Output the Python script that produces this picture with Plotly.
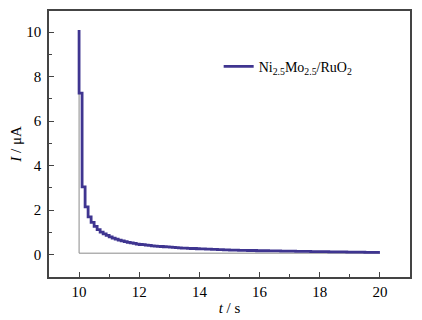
import plotly.graph_objects as go

# photocurrent response, step samples every 0.1 s after light on at t = 10 s
spike_t = [10.0, 10.0, 10.1]
spike_i = [10.1, 7.26, 6.96]

step_t = [round(10.1 + 0.1 * k, 1) for k in range(100)]
step_i = [3.05, 2.15, 1.70, 1.45, 1.27, 1.13, 1.02, 0.94, 0.87, 0.80,
          0.75, 0.70, 0.66, 0.62, 0.59, 0.56, 0.53, 0.51, 0.48, 0.46,
          0.45, 0.43, 0.42, 0.40, 0.39, 0.38, 0.37, 0.36, 0.35, 0.34,
          0.33, 0.32, 0.31, 0.30, 0.30, 0.29, 0.28, 0.28, 0.27, 0.26,
          0.26, 0.25, 0.25, 0.24, 0.24, 0.23, 0.23, 0.22, 0.22, 0.21,
          0.21, 0.21, 0.20, 0.20, 0.20, 0.19, 0.19, 0.19, 0.18, 0.18,
          0.18, 0.18, 0.17, 0.17, 0.17, 0.17, 0.16, 0.16, 0.16, 0.16,
          0.16, 0.15, 0.15, 0.15, 0.15, 0.15, 0.14, 0.14, 0.14, 0.14,
          0.14, 0.14, 0.13, 0.13, 0.13, 0.13, 0.13, 0.13, 0.12, 0.12,
          0.12, 0.12, 0.12, 0.12, 0.11, 0.11, 0.11, 0.11, 0.11, 0.11]

# thin grey baseline trace
base_t = [20.0, 10.0, 10.0]
base_i = [0.07, 0.07, 7.26]

serif = "Liberation Serif"

fig = go.Figure()
fig.add_trace(go.Scatter(x=base_t, y=base_i, mode="lines",
                         line=dict(color="#8a8a8a", width=1),
                         showlegend=False, hoverinfo="skip"))
fig.add_trace(go.Scatter(x=spike_t + step_t, y=spike_i + step_i, mode="lines",
                         line=dict(color="#3f3590", width=2.8, shape="hv"),
                         name="Ni<sub>2.5</sub>Mo<sub>2.5</sub>/RuO<sub>2</sub>"))

axis_common = dict(showline=True, mirror=True, linecolor="#444", linewidth=1.5,
                   ticks="inside", ticklen=5, tickwidth=1, tickcolor="#444",
                   showgrid=False, zeroline=False,
                   tickfont=dict(family=serif, size=15, color="black"))

fig.update_xaxes(range=[9, 21], tick0=10, dtick=2,
                 minor=dict(ticks="inside", ticklen=3, dtick=1, tick0=9, tickcolor="#444"),
                 title=dict(text="<i>t</i> / s", font=dict(family=serif, size=15, color="black"),
                            standoff=4),
                 **axis_common)
fig.update_yaxes(range=[-1, 10.95], tick0=0, dtick=2,
                 minor=dict(ticks="inside", ticklen=3, dtick=1, tick0=0, tickcolor="#444"),
                 ticklabelstandoff=3,
                 title=dict(text="<i>I</i> / μA", font=dict(family=serif, size=15, color="black"),
                            standoff=4),
                 **axis_common)

# page body adds an 8 px margin, so the figure is sized to fill the rest
fig.update_layout(
    width=414, height=312,
    margin=dict(l=41, r=12, t=1, b=43),
    paper_bgcolor="white", plot_bgcolor="white",
    font=dict(family=serif, color="black"),
    legend=dict(x=0.47, y=0.79, xanchor="left", yanchor="middle",
                bgcolor="rgba(0,0,0,0)", font=dict(family=serif, size=14, color="black")),
)

fig.write_html("out.html")
